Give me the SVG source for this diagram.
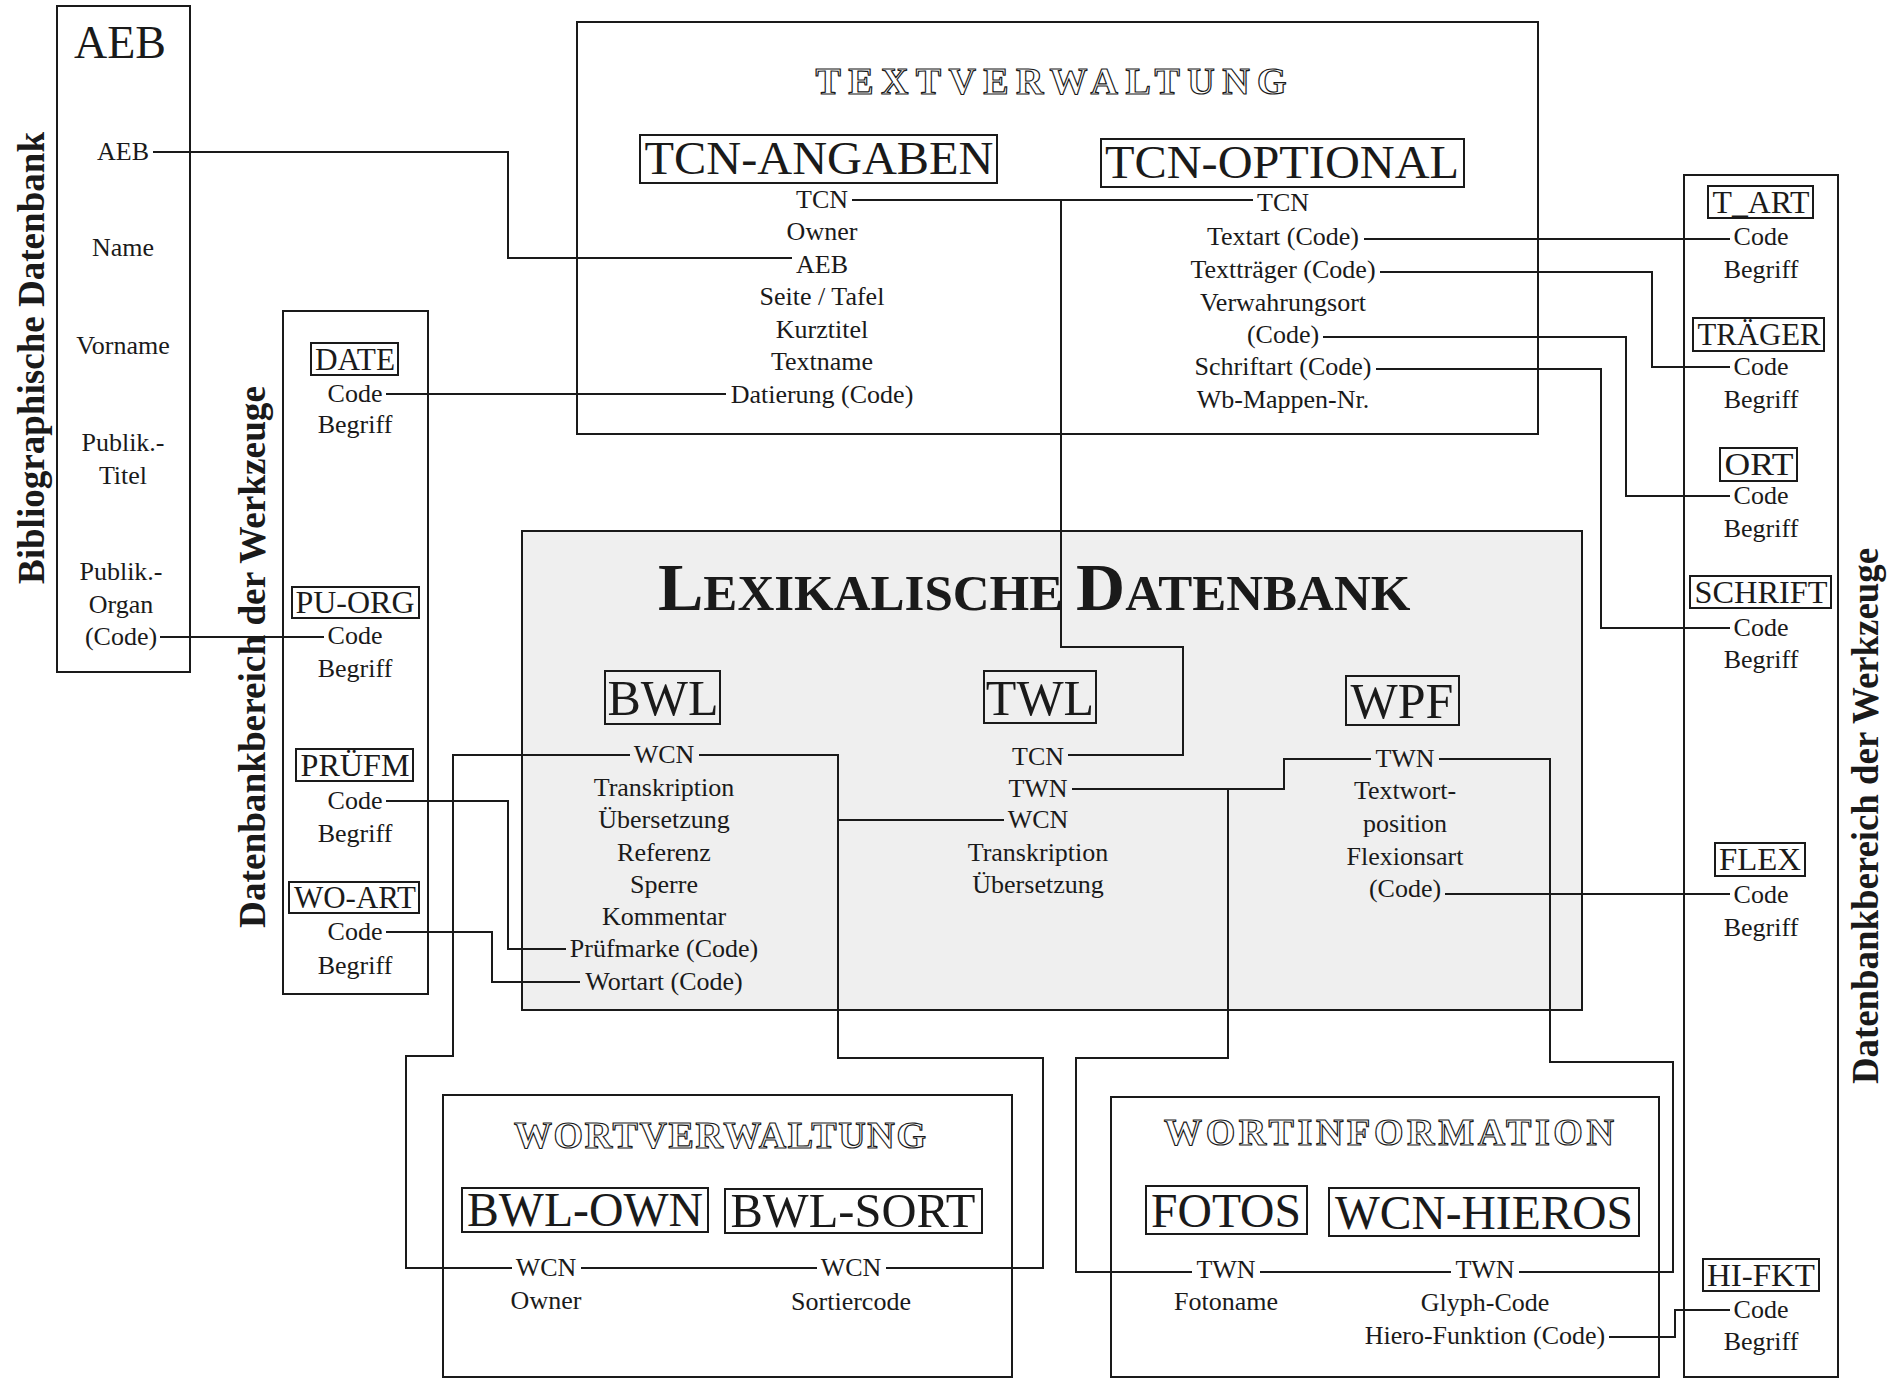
<svg xmlns="http://www.w3.org/2000/svg" width="1889" height="1380" viewBox="0 0 1889 1380">
<style>
  .box{fill:none;stroke:#1a1a1a;stroke-width:2}
  .t{font-family:"Liberation Serif","Times New Roman",serif;font-size:26px;fill:#1a1a1a;text-anchor:middle}
  .sl{font-family:"Liberation Serif","Times New Roman",serif;font-size:32px;fill:#1a1a1a;text-anchor:middle}
  .big{font-family:"Liberation Serif","Times New Roman",serif;font-size:50px;fill:#1a1a1a;text-anchor:middle}
  .eng{font-family:"Liberation Serif","Times New Roman",serif;font-weight:bold;font-size:38px;fill:#fff;stroke:#1a1a1a;stroke-width:1.2;text-anchor:middle}
  .vt{font-family:"Liberation Serif","Times New Roman",serif;font-weight:bold;font-size:38px;fill:#1a1a1a;text-anchor:middle}
  .c{fill:none;stroke:#1a1a1a;stroke-width:2}
</style>
<rect width="1889" height="1380" fill="#fff"/>

<!-- Side labels -->
<text class="vt" transform="translate(44,358) rotate(-90)" textLength="452" lengthAdjust="spacingAndGlyphs">Bibliographische Datenbank</text>
<text class="vt" transform="translate(265,657) rotate(-90)" textLength="542" lengthAdjust="spacingAndGlyphs">Datenbankbereich der Werkzeuge</text>
<text class="vt" transform="translate(1878,816) rotate(-90)" textLength="536" lengthAdjust="spacingAndGlyphs">Datenbankbereich der Werkzeuge</text>

<!-- AEB -->
<g id="aeb">
  <rect class="box" x="57" y="6" width="133" height="666"/>
  <text class="t" x="120" y="58" style="font-size:46px">AEB</text>
  <text class="t" x="123" y="160">AEB</text>
  <text class="t" x="123" y="256">Name</text>
  <text class="t" x="123" y="354">Vorname</text>
  <text class="t" x="123" y="451">Publik.-</text>
  <text class="t" x="123" y="484">Titel</text>
  <text class="t" x="121" y="580">Publik.-</text>
  <text class="t" x="121" y="613">Organ</text>
  <text class="t" x="121" y="645">(Code)</text>
</g>

<!-- Werkzeuge left -->
<g id="werkzeuge-links">
  <rect class="box" x="283" y="311" width="145" height="683"/>
  <rect class="box" x="311" y="343" width="87" height="32"/>
  <text class="sl" x="355" y="370" textLength="80" lengthAdjust="spacingAndGlyphs">DATE</text>
  <text class="t" x="355" y="402">Code</text>
  <text class="t" x="355" y="433">Begriff</text>
  <rect class="box" x="292" y="587" width="127" height="31"/>
  <text class="sl" x="355" y="613" textLength="119" lengthAdjust="spacingAndGlyphs">PU-ORG</text>
  <text class="t" x="355" y="644">Code</text>
  <text class="t" x="355" y="677">Begriff</text>
  <rect class="box" x="296" y="749" width="117" height="32"/>
  <text class="sl" x="355" y="776" textLength="109" lengthAdjust="spacingAndGlyphs">PRÜFM</text>
  <text class="t" x="355" y="809">Code</text>
  <text class="t" x="355" y="842">Begriff</text>
  <rect class="box" x="289" y="882" width="130" height="31"/>
  <text class="sl" x="355" y="908" textLength="122" lengthAdjust="spacingAndGlyphs">WO-ART</text>
  <text class="t" x="355" y="940">Code</text>
  <text class="t" x="355" y="974">Begriff</text>
</g>

<!-- Werkzeuge right -->
<g id="werkzeuge-rechts">
  <rect class="box" x="1684" y="175" width="154" height="1202"/>
  <rect class="box" x="1708" y="186" width="105" height="32"/>
  <text class="sl" x="1761" y="213" textLength="97" lengthAdjust="spacingAndGlyphs">T_ART</text>
  <text class="t" x="1761" y="245">Code</text>
  <text class="t" x="1761" y="278">Begriff</text>
  <rect class="box" x="1693" y="318" width="131" height="33"/>
  <text class="sl" x="1759" y="345" textLength="123" lengthAdjust="spacingAndGlyphs">TRÄGER</text>
  <text class="t" x="1761" y="375">Code</text>
  <text class="t" x="1761" y="408">Begriff</text>
  <rect class="box" x="1720" y="448" width="77" height="33"/>
  <text class="sl" x="1759" y="475" textLength="69" lengthAdjust="spacingAndGlyphs">ORT</text>
  <text class="t" x="1761" y="504">Code</text>
  <text class="t" x="1761" y="537">Begriff</text>
  <rect class="box" x="1690" y="576" width="141" height="32"/>
  <text class="sl" x="1761" y="603" textLength="133" lengthAdjust="spacingAndGlyphs">SCHRIFT</text>
  <text class="t" x="1761" y="636">Code</text>
  <text class="t" x="1761" y="668">Begriff</text>
  <rect class="box" x="1715" y="843" width="90" height="33"/>
  <text class="sl" x="1760" y="870" textLength="82" lengthAdjust="spacingAndGlyphs">FLEX</text>
  <text class="t" x="1761" y="903">Code</text>
  <text class="t" x="1761" y="936">Begriff</text>
  <rect class="box" x="1703" y="1259" width="116" height="32"/>
  <text class="sl" x="1761" y="1286" textLength="108" lengthAdjust="spacingAndGlyphs">HI-FKT</text>
  <text class="t" x="1761" y="1318">Code</text>
  <text class="t" x="1761" y="1350">Begriff</text>
</g>

<!-- Textverwaltung -->
<g id="textverwaltung">
  <rect class="box" x="577" y="22" width="961" height="412"/>
  <text class="eng" x="1051" y="94" textLength="471" lengthAdjust="spacing">TEXTVERWALTUNG</text>
  <g id="tcn-angaben">
    <rect class="box" x="640" y="135" width="357" height="48"/>
    <text class="big" x="819" y="174" style="font-size:46px" textLength="349" lengthAdjust="spacingAndGlyphs">TCN-ANGABEN</text>
    <text class="t" x="822" y="208">TCN</text>
    <text class="t" x="822" y="240">Owner</text>
    <text class="t" x="822" y="273">AEB</text>
    <text class="t" x="822" y="305">Seite / Tafel</text>
    <text class="t" x="822" y="338">Kurztitel</text>
    <text class="t" x="822" y="370">Textname</text>
    <text class="t" x="822" y="403">Datierung (Code)</text>
  </g>
  <g id="tcn-optional">
    <rect class="box" x="1101" y="139" width="363" height="48"/>
    <text class="big" x="1282" y="178" style="font-size:46px" textLength="354" lengthAdjust="spacingAndGlyphs">TCN-OPTIONAL</text>
    <text class="t" x="1283" y="211">TCN</text>
    <text class="t" x="1283" y="245">Textart (Code)</text>
    <text class="t" x="1283" y="278">Textträger (Code)</text>
    <text class="t" x="1283" y="311">Verwahrungsort</text>
    <text class="t" x="1283" y="343">(Code)</text>
    <text class="t" x="1283" y="375">Schriftart (Code)</text>
    <text class="t" x="1283" y="408">Wb-Mappen-Nr.</text>
  </g>
</g>

<!-- Lexikalische Datenbank -->
<g id="lexikalische-datenbank">
  <rect x="522" y="531" width="1060" height="479" fill="#efefef" stroke="#1a1a1a" stroke-width="2"/>
  <text x="658" y="610" style="font-family:'Liberation Serif','Times New Roman',serif;font-weight:bold;fill:#1a1a1a"><tspan font-size="68">L</tspan><tspan font-size="51">EXIKALISCHE </tspan><tspan font-size="68">D</tspan><tspan font-size="51">ATENBANK</tspan></text>
  <g id="bwl">
    <rect class="box" x="605" y="671" width="115" height="53"/>
    <text class="big" x="663" y="715">BWL</text>
    <text class="t" x="664" y="763">WCN</text>
    <text class="t" x="664" y="796">Transkription</text>
    <text class="t" x="664" y="828">Übersetzung</text>
    <text class="t" x="664" y="861">Referenz</text>
    <text class="t" x="664" y="893">Sperre</text>
    <text class="t" x="664" y="925">Kommentar</text>
    <text class="t" x="664" y="957">Prüfmarke (Code)</text>
    <text class="t" x="664" y="990">Wortart (Code)</text>
  </g>
  <g id="twl">
    <rect class="box" x="984" y="671" width="112" height="52"/>
    <text class="big" x="1040" y="715">TWL</text>
    <text class="t" x="1038" y="765">TCN</text>
    <text class="t" x="1038" y="797">TWN</text>
    <text class="t" x="1038" y="828">WCN</text>
    <text class="t" x="1038" y="861">Transkription</text>
    <text class="t" x="1038" y="893">Übersetzung</text>
  </g>
  <g id="wpf">
    <rect class="box" x="1346" y="676" width="113" height="49"/>
    <text class="big" x="1402" y="718">WPF</text>
    <text class="t" x="1405" y="767">TWN</text>
    <text class="t" x="1405" y="799">Textwort-</text>
    <text class="t" x="1405" y="832">position</text>
    <text class="t" x="1405" y="865">Flexionsart</text>
    <text class="t" x="1405" y="897">(Code)</text>
  </g>
</g>

<!-- Wortverwaltung -->
<g id="wortverwaltung">
  <rect class="box" x="443" y="1095" width="569" height="282"/>
  <text class="eng" x="720" y="1148" textLength="412" lengthAdjust="spacing">WORTVERWALTUNG</text>
  <rect class="box" x="462" y="1188" width="246" height="44"/>
  <text class="big" x="585" y="1226" style="font-size:48px" textLength="236" lengthAdjust="spacingAndGlyphs">BWL-OWN</text>
  <rect class="box" x="725" y="1189" width="257" height="44"/>
  <text class="big" x="853" y="1227" style="font-size:48px" textLength="245" lengthAdjust="spacingAndGlyphs">BWL-SORT</text>
  <text class="t" x="546" y="1276">WCN</text>
  <text class="t" x="546" y="1309">Owner</text>
  <text class="t" x="851" y="1276">WCN</text>
  <text class="t" x="851" y="1310">Sortiercode</text>
</g>

<!-- Wortinformation -->
<g id="wortinformation">
  <rect class="box" x="1111" y="1097" width="548" height="280"/>
  <text class="eng" x="1389" y="1145" textLength="450" lengthAdjust="spacing">WORTINFORMATION</text>
  <rect class="box" x="1146" y="1186" width="161" height="48"/>
  <text class="big" x="1226" y="1227" style="font-size:48px" textLength="150" lengthAdjust="spacingAndGlyphs">FOTOS</text>
  <rect class="box" x="1329" y="1188" width="310" height="48"/>
  <text class="big" x="1484" y="1229" style="font-size:48px" textLength="298" lengthAdjust="spacingAndGlyphs">WCN-HIEROS</text>
  <text class="t" x="1226" y="1278">TWN</text>
  <text class="t" x="1226" y="1310">Fotoname</text>
  <text class="t" x="1485" y="1278">TWN</text>
  <text class="t" x="1485" y="1311">Glyph-Code</text>
  <text class="t" x="1485" y="1344">Hiero-Funktion (Code)</text>
</g>

<!-- Connectors -->
<g id="connectors">
  <polyline class="c" points="153,152 508,152 508,258 792,258"/>
  <polyline class="c" points="160,637 324,637"/>
  <polyline class="c" points="386,394 726,394"/>
  <polyline class="c" points="386,801 508,801 508,949 566,949"/>
  <polyline class="c" points="386,932 492,932 492,982 580,982"/>
  <polyline class="c" points="852,200 1253,200"/>
  <polyline class="c" points="1061,200 1061,647 1183,647 1183,755 1068,755"/>
  <polyline class="c" points="1364,239 1730,239"/>
  <polyline class="c" points="1380,272 1652,272 1652,367 1730,367"/>
  <polyline class="c" points="1323,337 1626,337 1626,496 1730,496"/>
  <polyline class="c" points="1376,369 1601,369 1601,628 1730,628"/>
  <polyline class="c" points="630,755 453,755 453,1056 406,1056 406,1268 512,1268"/>
  <polyline class="c" points="581,1268 817,1268"/>
  <polyline class="c" points="699,755 838,755 838,1058 1043,1058 1043,1268 886,1268"/>
  <polyline class="c" points="838,820 1004,820"/>
  <polyline class="c" points="1072,789 1284,789 1284,759 1371,759"/>
  <polyline class="c" points="1228,789 1228,1058 1076,1058 1076,1272 1192,1272"/>
  <polyline class="c" points="1260,1272 1451,1272"/>
  <polyline class="c" points="1439,759 1550,759 1550,1062 1673,1062 1673,1272 1519,1272"/>
  <polyline class="c" points="1445,894 1730,894"/>
  <polyline class="c" points="1609,1337 1675,1337 1675,1310 1730,1310"/>
</g>
</svg>
